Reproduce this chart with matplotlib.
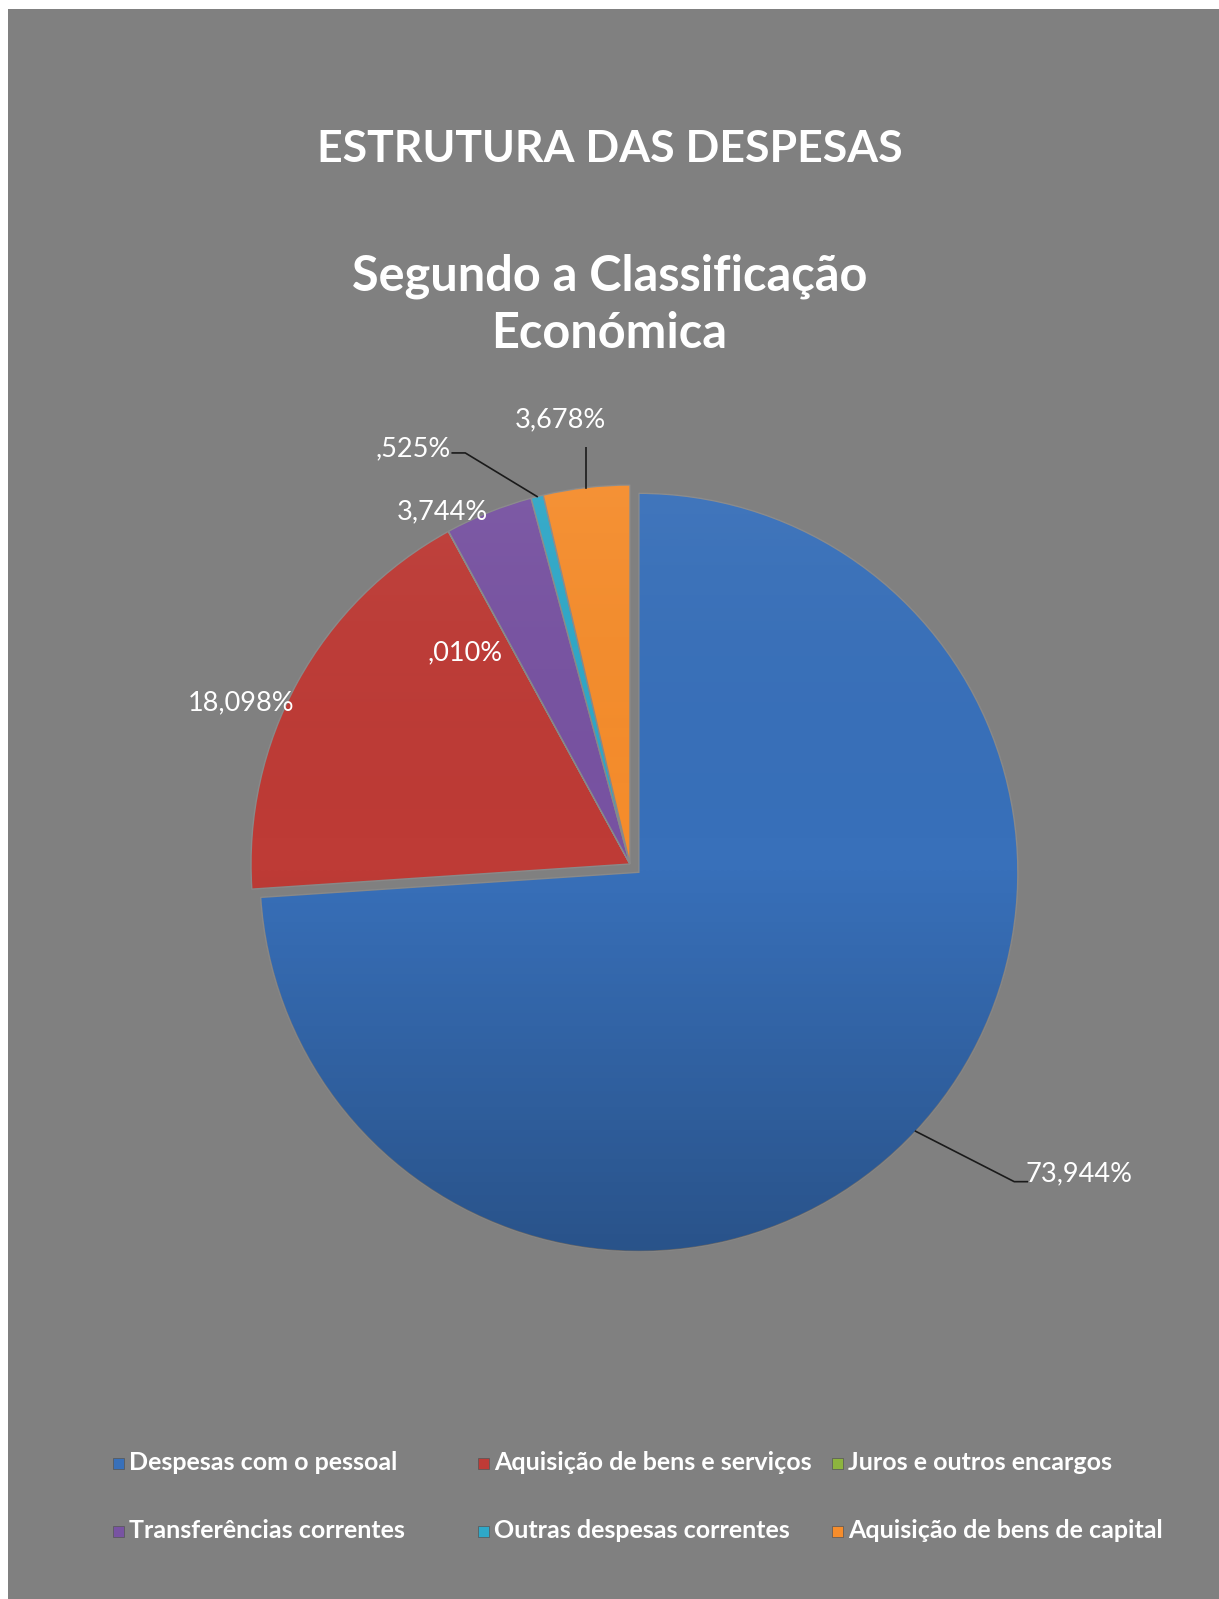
import numpy as np
import matplotlib
matplotlib.use("Agg")
import matplotlib.pyplot as plt
from matplotlib.patches import Rectangle
from matplotlib.colors import LinearSegmentedColormap

# data
categories = ["Despesas com o pessoal", "Aquisição de bens e serviços",
              "Juros e outros encargos", "Transferências correntes",
              "Outras despesas correntes", "Aquisição de bens de capital"]
shares = [73.944, 18.098, 0.010, 3.744, 0.525, 3.678]
labels = ["73,944%", "18,098%", ",010%", "3,744%", ",525%", "3,678%"]
colors = ["#3870BA", "#BE3B36", "#8DB43E", "#7853A2", "#2FA8C8", "#F68D2C"]

title1 = "ESTRUTURA DAS DESPESAS"
title2 = ["Segundo a Classificação", "Económica"]

W, H = 1219, 1599
plt.rcParams["font.family"] = ["Lato", "DejaVu Sans"]
fig = plt.figure(figsize=(W / 100, H / 100), dpi=100, facecolor="white")
fig.add_artist(Rectangle((8 / W, 0), 1, (H - 9) / H, transform=fig.transFigure,
                         facecolor="#808080", edgecolor="none", zorder=0))

# pie geometry in pixels
cx, cy, R = 630, 864, 379
lim = 1.1
side = 2 * lim * R
ax = fig.add_axes([(cx - lim * R) / W, (H - cy - lim * R) / H, side / W, side / H])
ax.set_facecolor("none")

explode = [0.032, 0.0, 0.0, 0.0, 0.0, 0.0]
wedges, _ = ax.pie(shares, colors=colors, startangle=90, counterclock=False,
                   explode=explode, radius=1.0,
                   wedgeprops=dict(edgecolor="#8a8a8a", linewidth=1.0))
ax.set_xlim(-lim, lim)
ax.set_ylim(-lim, lim)
ax.set_aspect("equal")
ax.axis("off")

# soft top-to-bottom shading like the office gradient
shade = LinearSegmentedColormap.from_list("shade", [(0, 0, 0, 0.28), (0, 0, 0, 0.0), (1, 1, 1, 0.06)])
grad = np.linspace(0, 1, 256).reshape(-1, 1)
for w in wedges:
    im = ax.imshow(grad, cmap=shade, extent=(-lim, lim, -lim, lim), origin="lower",
                   aspect="auto", zorder=w.get_zorder() + 0.1, interpolation="bilinear")
    im.set_clip_path(w)

def pol(r, ang):
    a = np.deg2rad(ang)
    return r * np.cos(a), r * np.sin(a) - 7 / R

mids = [(w.theta1 + w.theta2) / 2 for w in wedges]

# label placement (radius, angle) around the pie
k = 372 / R
lab_pos = [(1.457 * k, -34.0), (1.14 * k, 156.6), (0.735 * k, 127.0),
           (1.09 * k, 117.6), (1.275 * k, 117.2), (1.228 * k, 98.8)]
for i, (r, a) in enumerate(lab_pos):
    x, y = pol(r, a)
    ax.text(x, y, labels[i], color="white", fontsize=19.5, ha="center", va="center",
            zorder=10)

# leader lines
def edge(i, r=1.0):
    w = wedges[i]
    ox, oy = w.center
    a = np.deg2rad(mids[i])
    return ox + r * np.cos(a), oy + r * np.sin(a)

lc = "#1a1a1a"
lx, ly = pol(*lab_pos[0])
ex, ey = edge(0)
ax.plot([ex, lx - 0.175 * k, lx - 0.14 * k], [ey, ly - 0.02, ly - 0.02], color=lc, lw=1.2)

lx, ly = pol(*lab_pos[4])
ex, ey = edge(4)
ax.plot([lx + 0.105 * k, lx + 0.14 * k, ex], [ly - 0.01, ly - 0.01, ey], color=lc, lw=1.2)

lx, ly = pol(*lab_pos[5])
ex, ey = edge(5)
ax.plot([ex, ex], [ly - 0.045, ey], color=lc, lw=1.2)

# titles
fig.text(0.5, 1 - 149 / H, title1, color="white", fontsize=32, fontweight="bold",
         ha="center", va="center")
fig.text(0.5, 1 - 276 / H, title2[0], color="white", fontsize=35, fontweight="bold",
         ha="center", va="center")
fig.text(0.5, 1 - 333 / H, title2[1], color="white", fontsize=35, fontweight="bold",
         ha="center", va="center")

# legend, row-wise, 3 columns
col_x = [113, 478, 832]
row_y = [1463, 1531]
for i, name in enumerate(categories):
    px = col_x[i % 3]
    py = row_y[i // 3]
    fig.add_artist(Rectangle((px / W, 1 - (py + 6) / H), 11 / W, 11 / H,
                             transform=fig.transFigure, facecolor=colors[i],
                             edgecolor="#555555", linewidth=0.5))
    fig.text((px + 16) / W, 1 - py / H, name, color="white", fontsize=18,
             fontweight="bold", ha="left", va="center")

fig.savefig("out.png", dpi=100, facecolor=fig.get_facecolor())
